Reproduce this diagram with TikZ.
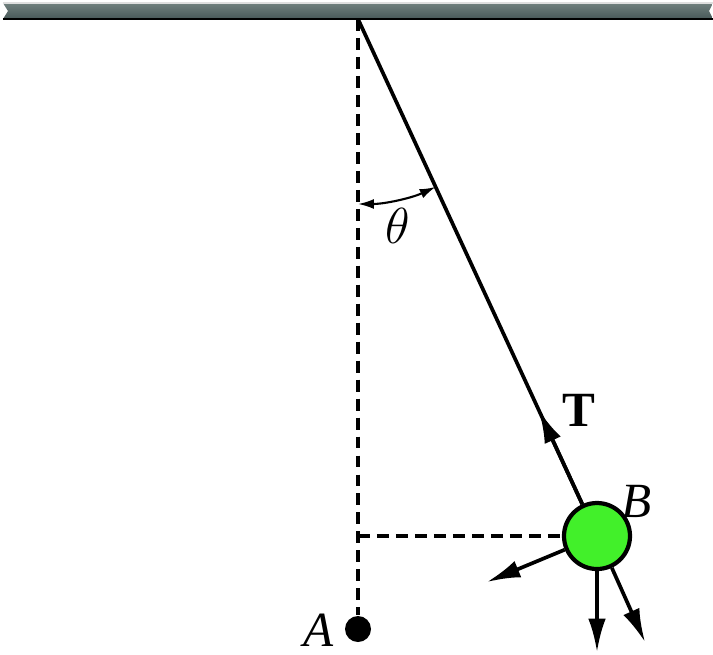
\documentclass[tikz,border=0pt]{standalone}
\usepackage{fontspec}
\setmainfont{Liberation Serif}
\usetikzlibrary{calc, arrows.meta}

\definecolor{bobgreen}{RGB}{66,240,42}
\definecolor{ceiltop}{RGB}{112,128,126}
\definecolor{ceilbot}{RGB}{72,88,88}

\begin{document}
\begin{tikzpicture}[font=\fontsize{14}{16}\selectfont,
	rod/.style={line width=1.05pt},
	guide/.style={line width=1pt, dash pattern=on 3.4pt off 2pt},
	force/.style={line width=1.05pt, -{Latex[length=9.5pt,width=5pt]}},
	bob/.style={circle, draw, line width=1.2pt, fill=bobgreen, minimum size=0.66cm, inner sep=0pt},
	pin/.style={circle, fill, minimum size=0.26cm, inner sep=0pt}]

	% fixing the picture size
	\useasboundingbox (0,0) rectangle (7.13,6.54);

	% the ceiling with its notched ends
	\shade[top color=ceiltop, bottom color=ceilbot]
		(0.03,6.51) -- (7.13,6.51) -- (7.09,6.43) -- (7.13,6.35) -- (0.03,6.35) -- (0.08,6.43) -- cycle;
	\draw[line width=0.6pt, white!75!gray] (0.03,6.51) -- (7.13,6.51);
	\draw[line width=0.8pt] (0.03,6.35) -- (7.13,6.35);

	% pivot, bob and the lowest point
	\coordinate (O) at (3.58,6.35);
	\node[pin] (A) at (3.58,0.25) {};
	\node[bob] (B) at (5.97,1.18) {};
	\node (Alabel) at (3.19,0.24) {\textit{A}};
	\node (Blabel) at (6.37,1.53) {\textit{B}};

	% dashed guide lines
	\coordinate (H) at (O |- B);
	\draw[guide] (O) -- (A);
	\draw[guide] (H) -- (B.west);

	% the string and the tension
	\draw[rod] (O) -- (B);
	\coordinate (Ttip) at ($(B)!0.244!(O)$);
	\draw[force] (B) -- (Ttip);
	\node (Tlabel) at (5.79,2.44) {\textbf{T}};

	% angle between string and vertical
	\draw[line width=0.6pt, {Latex[length=4.5pt,width=2.8pt]}-{Latex[length=4.5pt,width=2.8pt]}]
		($(O)+(-90:1.85)$) arc (-90:-65.2:1.85);
	\node (theta) at (3.98,4.28) {$\theta$};

	% forces on the bob
	\coordinate (F1) at (4.87,0.72);
	\coordinate (F2) at (5.97,0.02);
	\coordinate (F3) at (6.45,0.12);
	\draw[force] (B.203) -- (F1);
	\draw[force] (B.south) -- (F2);
	\draw[force] (B.-65) -- (F3);

\end{tikzpicture}
\end{document}
